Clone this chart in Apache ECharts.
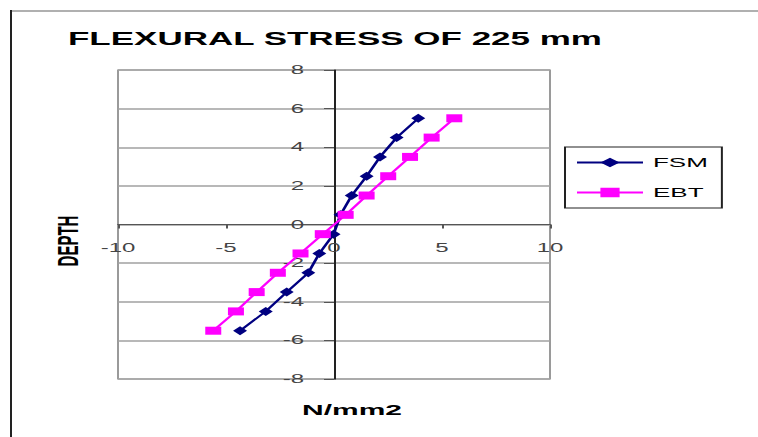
<!DOCTYPE html>
<html>
<head>
<meta charset="utf-8">
<script src="https://cdn.jsdelivr.net/npm/echarts@6/dist/echarts.min.js"></script>
<style>
  html, body { margin: 0; padding: 0; background: #fff; overflow: hidden; }
  #wrap { width: 758px; height: 437px; overflow: hidden; }
  #chart { width: 379px; height: 437px; transform: scaleX(2); transform-origin: 0 0; }
</style>
</head>
<body>
<div id="wrap"><div id="chart"></div></div>
<script>
// ---- data ----
const titleText = 'FLEXURAL STRESS OF 225 mm';
const xAxisTitle = 'N/mm2';
const yAxisTitle = 'DEPTH';
const seriesNames = ['FSM', 'EBT'];
const depth = [5.5, 4.5, 3.5, 2.5, 1.5, 0.5, -0.5, -1.5, -2.5, -3.5, -4.5, -5.5];
const fsm   = [3.9, 2.9, 2.13, 1.51, 0.82, 0.3, -0.02, -0.68, -1.19, -2.19, -3.16, -4.35];
const ebt   = [5.57, 4.52, 3.52, 2.51, 1.51, 0.54, -0.52, -1.55, -2.6, -3.58, -4.54, -5.59];
const xMin = -10, xMax = 10, xStep = 5;
const yMin = -8, yMax = 8, yStep = 2;

const font = 'Liberation Sans, Arial, sans-serif';
const gridLeft = 59, gridTop = 70, gridW = 216, gridH = 309;
const chart = echarts.init(document.getElementById('chart'), null, { renderer: 'svg' });

// place the axes on the zero lines (crossing at the origin)
const xZeroOffset = -gridH * (0 - yMin) / (yMax - yMin);
const yZeroOffset = -gridW * (0 - xMin) / (xMax - xMin);

chart.setOption({
  animation: false,
  backgroundColor: '#fff',
  grid: {
    left: gridLeft, top: gridTop, width: gridW, height: gridH,
    show: true, borderColor: '#9a9a9a', borderWidth: 1
  },
  xAxis: {
    type: 'value', min: xMin, max: xMax, interval: xStep,
    position: 'bottom', offset: xZeroOffset,
    axisLine: { onZero: false, lineStyle: { color: '#555', width: 1 } },
    axisTick: { show: true, length: 4, lineStyle: { color: '#555' } },
    axisLabel: { margin: 17, fontSize: 12, color: '#444', fontFamily: font },
    splitLine: { show: false }
  },
  yAxis: {
    type: 'value', min: yMin, max: yMax, interval: yStep,
    position: 'left', offset: yZeroOffset,
    axisLine: { onZero: false, lineStyle: { color: '#222', width: 1 } },
    axisTick: { show: true, length: 5, lineStyle: { color: '#555' } },
    axisLabel: { margin: 15, fontSize: 12, color: '#444', fontFamily: font },
    splitLine: { show: true, lineStyle: { color: '#a0a0a0', width: 1.5 } }
  },
  legend: {
    orient: 'vertical', left: 282.5, top: 147,
    padding: [9, 7, 9, 5],
    itemWidth: 33, itemHeight: 12, itemGap: 17,
    borderColor: '#222', borderWidth: 1,
    textStyle: { fontSize: 13, color: '#000', fontFamily: font },
    data: seriesNames
  },
  series: [
    {
      name: seriesNames[0], type: 'line',
      data: depth.map((d, i) => [fsm[i], d]),
      symbol: 'diamond', symbolSize: [7, 9],
      lineStyle: { color: '#000080', width: 1.5 },
      itemStyle: { color: '#000080' }
    },
    {
      name: seriesNames[1], type: 'line',
      data: depth.map((d, i) => [ebt[i], d]),
      symbol: 'rect', symbolSize: 8,
      lineStyle: { color: '#ff00ff', width: 1.5 },
      itemStyle: { color: '#ff00ff' }
    }
  ],
  graphic: [
    { type: 'line', shape: { x1: 5.5, y1: 11, x2: 379, y2: 11 }, style: { stroke: '#b0b0b0', lineWidth: 2 } },
    { type: 'line', shape: { x1: 5.5, y1: 10, x2: 5.5, y2: 437 }, style: { stroke: '#222', lineWidth: 1 } },
    { type: 'text', x: 34, y: 38.5, style: { text: titleText, fontSize: 17.5, fontWeight: 'bold', fontFamily: font, fill: '#000', align: 'left', verticalAlign: 'middle' } },
    { type: 'text', x: 34, y: 241, rotation: Math.PI / 2, style: { text: yAxisTitle, fontSize: 15, fontWeight: 'bold', fontFamily: font, fill: '#000', align: 'center', verticalAlign: 'middle' } },
    { type: 'text', x: 176, y: 409.5, style: { text: xAxisTitle, fontSize: 15, fontWeight: 'bold', fontFamily: font, fill: '#000', align: 'center', verticalAlign: 'middle' } }
  ]
});
</script>
</body>
</html>
